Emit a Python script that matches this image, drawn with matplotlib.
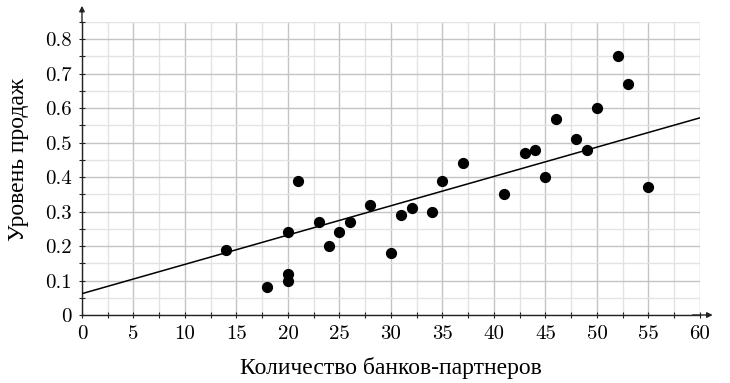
import numpy as np
import matplotlib
matplotlib.use("Agg")
import matplotlib.pyplot as plt
from matplotlib.ticker import MultipleLocator, FuncFormatter

# количество банков-партнеров и уровень продаж
banks = [14, 18, 20, 20, 20, 21, 23, 24, 25, 26, 28, 30, 31, 32, 34, 35, 37,
         41, 43, 44, 45, 46, 48, 49, 50, 52, 53, 55]
sales = [0.19, 0.08, 0.24, 0.12, 0.10, 0.39, 0.27, 0.20, 0.24, 0.27, 0.32, 0.18,
         0.29, 0.31, 0.30, 0.39, 0.44, 0.35, 0.47, 0.48, 0.40, 0.57, 0.51, 0.48,
         0.60, 0.75, 0.67, 0.37]

# линия тренда
trend_b0 = 0.062
trend_b1 = 0.0085

xlabel = "Количество банков-партнеров"
ylabel = "Уровень продаж"

plt.rcParams['axes.formatter.use_mathtext'] = True
plt.rcParams['font.family'] = ['cmr10', 'DejaVu Serif']
txt_font = ['Liberation Serif', 'DejaVu Serif']

fig = plt.figure(figsize=(7.3, 3.83), dpi=100)
ax = fig.add_axes([0.1123, 0.1775, 0.8466, 0.7651])

ax.set_xlim(0, 60)
ax.set_ylim(0, 0.85)

ax.xaxis.set_major_locator(MultipleLocator(5))
ax.xaxis.set_minor_locator(MultipleLocator(2.5))
ax.yaxis.set_major_locator(MultipleLocator(0.1))
ax.yaxis.set_minor_locator(MultipleLocator(0.05))
ax.xaxis.set_major_formatter(FuncFormatter(lambda v, p: "%d" % round(v)))
ax.yaxis.set_major_formatter(FuncFormatter(lambda v, p: "0" if abs(v) < 1e-9 else "%.1f" % v))

ax.grid(which='major', color='#c4c4c4', lw=1.0, zorder=0)
ax.grid(which='minor', color='#e3e3e3', lw=1.0, zorder=0)
ax.set_axisbelow(True)

for s in ['top', 'right']:
    ax.spines[s].set_visible(False)
for s in ['left', 'bottom']:
    ax.spines[s].set_color('#222222')
    ax.spines[s].set_linewidth(1.0)

ax.tick_params(which='both', direction='inout', length=5, width=0.8, color='#222222')
ax.tick_params(which='major', labelsize=15, pad=5)

# стрелки осей
ax.annotate('', xy=(61.5, 0), xytext=(59, 0), xycoords='data',
            arrowprops=dict(arrowstyle='-|>', color='#222222', lw=1.0, mutation_scale=8),
            annotation_clip=False)
ax.annotate('', xy=(0, 0.905), xytext=(0, 0.84), xycoords='data',
            arrowprops=dict(arrowstyle='-|>', color='#222222', lw=1.0, mutation_scale=8),
            annotation_clip=False)

xs = np.array([0, 60])
ax.plot(xs, trend_b0 + trend_b1 * xs, color='black', lw=1.1, zorder=3)
ax.scatter(banks, sales, s=50, color='black', zorder=4)

ax.set_xlabel(xlabel, fontsize=17, family=txt_font, labelpad=10)
ax.set_ylabel(ylabel, fontsize=17, family=txt_font, labelpad=10)
ax.yaxis.set_label_coords(-0.085, 0.53)

fig.savefig('out.png', dpi=100)
